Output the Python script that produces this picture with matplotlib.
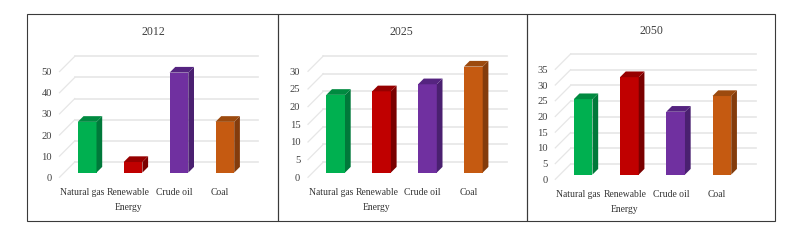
import matplotlib
matplotlib.use("Agg")
import matplotlib.pyplot as plt
from matplotlib.patches import Rectangle

WIDTH, HEIGHT = 801, 246

categories = ["Natural gas", "Renewable\nEnergy", "Crude oil", "Coal"]
years = ["2012", "2025", "2050"]
values_2012 = [24, 5, 47.3, 24]
values_2025 = [22, 23, 25, 30]
values_2050 = [24, 31, 20, 25]
ticks_2012 = [0, 10, 20, 30, 40, 50]
ticks_2025 = [0, 5, 10, 15, 20, 25, 30]
ticks_2050 = [0, 5, 10, 15, 20, 25, 30, 35]

front_colors = ["#00B050", "#C00000", "#7030A0", "#C55A11"]
side_colors = ["#00793A", "#7A0000", "#4A2070", "#843C0C"]
top_colors = ["#008A40", "#960000", "#552480", "#9C4A0E"]
GRID = "#E6E6E6"

plt.rcParams["font.family"] = ["Liberation Serif", "DejaVu Serif"]

# pixel layout: axes left, floor y, axes width, axes height, title x, title y
layouts = [
    (59.5, 177.3, 183.6, 105.7, 153, 32),
    (308.0, 177.3, 183.6, 106.0, 401.7, 32),
    (555.3, 179.3, 185.0, 110.0, 651, 31),
]
frames = [(27, 277.5), (277.5, 526.5), (526.5, 775)]

BAR_SHIFT = 4.7    # front plane -> bar front face, px
BAR_DEPTH = 5.7    # bar front -> bar back, px
WALL_DEPTH = 15.3  # front plane -> back wall, px


def draw_panel(fig, layout, year, values, ticks):
    left, floor, w, h, title_x, title_y = layout
    ax = fig.add_axes([left / WIDTH, 1 - floor / HEIGHT, w / WIDTH, h / HEIGHT])
    ax.set_xlim(-0.5, 3.5)
    ax.set_ylim(0, ticks[-1])
    ax.patch.set_alpha(0)

    # px to data units
    px_x = 4 / w
    px_y = ticks[-1] / h

    # back wall grid and the diagonals on the left side
    wx = WALL_DEPTH * px_x
    wy = WALL_DEPTH * px_y
    for t in ticks:
        ax.plot([-0.5, -0.5 + wx], [t, t + wy], color=GRID, lw=0.9, zorder=1, clip_on=False)
        ax.plot([-0.5 + wx, 3.5 + wx], [t + wy, t + wy], color=GRID, lw=1.2, zorder=1, clip_on=False)

    bar_w = 18.7 * px_x
    sx = BAR_SHIFT * px_x
    sy = BAR_SHIFT * px_y
    dx = BAR_DEPTH * px_x
    dy = BAR_DEPTH * px_y
    for i, v in enumerate(values):
        x0 = i + sx - bar_w / 2
        x1 = i + sx + bar_w / 2
        ax.bar(i + sx, v, bar_w, bottom=sy, color=front_colors[i], zorder=3, clip_on=False)
        ax.fill([x1, x1 + dx, x1 + dx, x1], [sy, sy + dy, sy + v + dy, sy + v],
                color=side_colors[i], lw=0, zorder=3, clip_on=False)
        ax.fill([x0, x0 + dx, x1 + dx, x1], [sy + v, sy + v + dy, sy + v + dy, sy + v],
                color=top_colors[i], lw=0, zorder=3, clip_on=False)

    ax.set_xticks(range(len(categories)))
    ax.set_xticklabels(categories, fontsize=6.9, color="#333333", linespacing=1.85)
    ax.set_yticks(ticks)
    ax.set_yticklabels([str(t) for t in ticks], fontsize=7.6, color="#404040")
    ax.tick_params(axis="x", length=0, pad=7.4)
    ax.tick_params(axis="y", length=0, pad=5.5)
    for s in ax.spines.values():
        s.set_visible(False)

    fig.text(title_x / WIDTH, 1 - title_y / HEIGHT, year, fontsize=8.6, color="#404040",
             ha="center", va="center")


fig = plt.figure(figsize=(WIDTH / 100, HEIGHT / 100), dpi=100, facecolor="white")

for x0, x1 in frames:
    fig.add_artist(Rectangle((x0 / WIDTH, 1 - 220.5 / HEIGHT), (x1 - x0) / WIDTH, 206.5 / HEIGHT,
                             transform=fig.transFigure, facecolor="none",
                             edgecolor="#3A3A3A", lw=0.8))

draw_panel(fig, layouts[0], years[0], values_2012, ticks_2012)
draw_panel(fig, layouts[1], years[1], values_2025, ticks_2025)
draw_panel(fig, layouts[2], years[2], values_2050, ticks_2050)

fig.savefig("out.png", dpi=100)
